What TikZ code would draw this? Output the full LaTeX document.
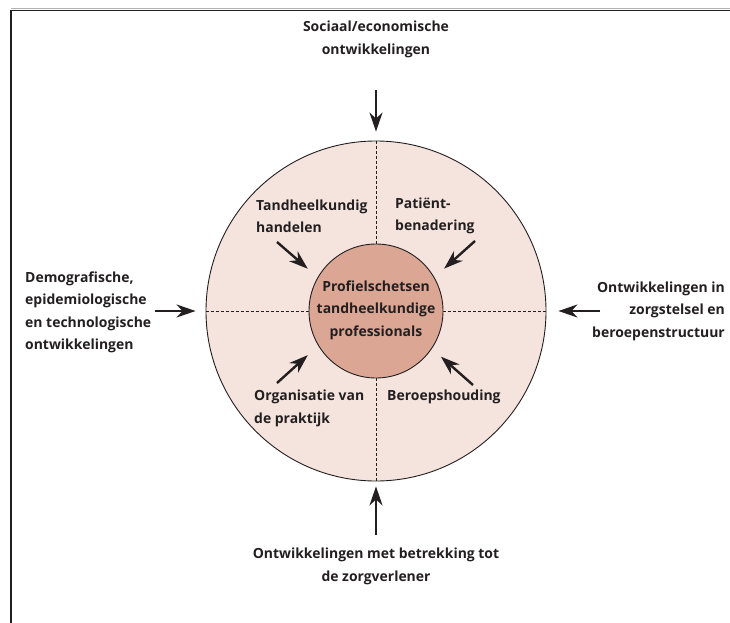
\documentclass[tikz,border=0pt]{standalone}
\usepackage{fontspec}
\setmainfont{Open Sans}
\usetikzlibrary{arrows.meta}
\definecolor{ink}{RGB}{35,31,32}
\definecolor{ringfill}{RGB}{245,228,221}
\definecolor{corefill}{RGB}{219,167,148}
\begin{document}
\begin{tikzpicture}[x=1bp,y=-1bp,
    txt/.style={font=\bfseries\fontsize{14}{22.5}\selectfont,text=ink,inner sep=0pt},
    push/.style={draw=ink,line width=2.4bp,-{Stealth[length=19bp,width=13bp,inset=6bp]}},
    divider/.style={draw=ink,line width=0.8bp,dash pattern=on 3bp off 2bp}]
      \useasboundingbox (0,0) rectangle (730,623);
      \draw[gray!60,line width=0.6bp] (11,8) -- (730,8);
      \draw[ink,line width=1.4bp] (11,623) -- (11,10.5) -- (730,10.5);

      \node[circle,draw=ink,line width=0.9bp,fill=ringfill,minimum size=340bp,inner sep=0pt] (outer) at (376,311){};
      \node[circle,draw=ink,line width=0.9bp,fill=corefill,minimum size=134bp,inner sep=0pt] (inner) at (376,311){};

      \draw[divider] (outer.north) -- (inner.north);
      \draw[divider] (inner.south) -- (outer.south);
      \draw[divider] (outer.west) -- (inner.west);
      \draw[divider] (inner.east) -- (outer.east);

      \node[txt,align=center] (core) at (376,310){Profielschetsen\\tandheelkundige\\professionals};
      \node[txt,align=left,anchor=west] (handelen) at (256,216){Tandheelkundig\\handelen};
      \node[txt,align=left,anchor=west] (benadering) at (395,216){Patiënt-\\benadering};
      \node[txt,align=left,anchor=west] (praktijk) at (254,408.5){Organisatie van\\de praktijk};
      \node[txt,align=left,anchor=west] (houding) at (387,397){Beroepshouding};

      \node[txt,align=center] (sociaal) at (376,39.5){Sociaal/economische\\ontwikkelingen};
      \node[txt,align=left,anchor=west] (demo) at (25,312.5){Demografische,\\epidemiologische\\en technologische\\ontwikkelingen};
      \node[txt,align=right,anchor=east] (zorgstelsel) at (725,311){Ontwikkelingen in\\zorgstelsel en\\beroepenstructuur};
      \node[txt,align=center] (zorgverlener) at (376,566.5){Ontwikkelingen met betrekking tot\\de zorgverlener};

      \coordinate (fromTop) at (376,90);
      \coordinate (fromLeft) at (155,311);
      \coordinate (fromRight) at (600,311);
      \coordinate (fromBottom) at (376,535);
      \draw[push,shorten >=9bp] (fromTop) -- (outer.north);
      \draw[push,shorten >=10bp] (fromLeft) -- (outer.west);
      \draw[push,shorten >=12bp] (fromRight) -- (outer.east);
      \draw[push,shorten >=5bp] (fromBottom) -- (outer.south);

      \coordinate (fromHandelen) at (277,242);
      \coordinate (fromBenadering) at (475,241);
      \coordinate (fromPraktijk) at (277,383);
      \coordinate (fromHouding) at (473,385);
      \draw[push,shorten >=13bp] (fromHandelen) -- (inner.150);
      \draw[push,shorten >=13bp] (fromBenadering) -- (inner.30);
      \draw[push,shorten >=14bp] (fromPraktijk) -- (inner.211);
      \draw[push,shorten >=12bp] (fromHouding) -- (inner.326);
    \end{tikzpicture}
\end{document}
